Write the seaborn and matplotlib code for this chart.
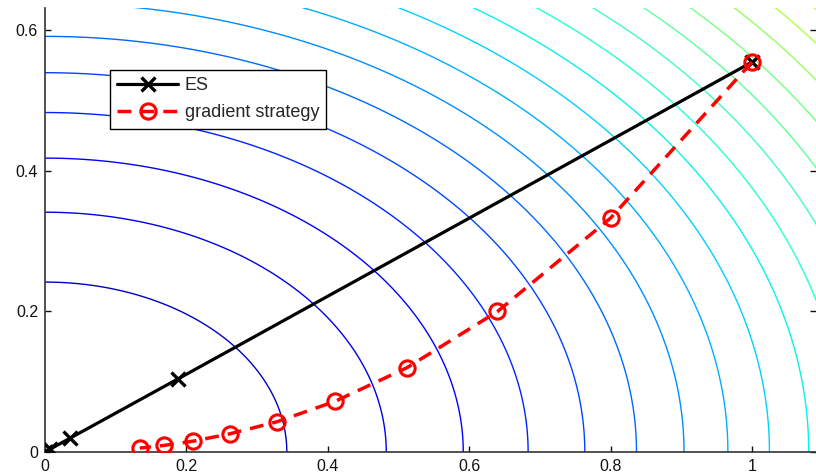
import numpy as np
import pandas as pd
import matplotlib
matplotlib.use("Agg")
import matplotlib.pyplot as plt
from matplotlib.colors import Normalize
import seaborn as sns

# Iterates of the two optimisers on f(x, y) = x^2 + 2 y^2
es_x = [1.0, 0.188, 0.0353, 0.0066, 0.0012, 0.0002]
es_y = [0.555, 0.104, 0.0196, 0.0037, 0.0007, 0.0001]

grad_x = [1.0, 0.8, 0.64, 0.512, 0.41, 0.328, 0.262, 0.21, 0.168, 0.134]
grad_y = [0.555, 0.333, 0.2, 0.12, 0.072, 0.043, 0.026, 0.0155, 0.0093, 0.0056]

# Objective and its contour levels
y_weight = 2.0
contour_levels = [0.117, 0.233, 0.35, 0.467, 0.583, 0.7, 0.817, 0.933, 1.05,
                  1.167, 1.283, 1.4, 1.517, 1.633, 1.75, 1.867, 1.983, 2.1]

x_ticks = [0, 0.2, 0.4, 0.6, 0.8, 1]
y_ticks = [0, 0.2, 0.4, 0.6]

sns.set_style("white")
plt.rcParams["font.family"] = ["Liberation Sans", "DejaVu Sans"]

fig = plt.figure(figsize=(8.16, 4.76), dpi=100)
ax = fig.add_axes([45 / 816, 24 / 476, 770.6 / 816, 444 / 476])

gx = np.linspace(0, 1.2, 500)
gy = np.linspace(0, 0.7, 300)
GX, GY = np.meshgrid(gx, gy)
GZ = GX ** 2 + y_weight * GY ** 2
ax.contour(GX, GY, GZ, levels=contour_levels, cmap="jet",
           norm=Normalize(vmin=-0.1, vmax=3.4), linewidths=1.0, zorder=1)

es_df = pd.DataFrame({"x": es_x, "y": es_y})
grad_df = pd.DataFrame({"x": grad_x, "y": grad_y})

sns.lineplot(data=es_df, x="x", y="y", sort=False, estimator=None, ax=ax,
             color="black", lw=2.3, marker="x", markersize=10,
             markeredgewidth=2.4, markeredgecolor="black", label="ES", zorder=3)
sns.lineplot(data=grad_df, x="x", y="y", sort=False, estimator=None, ax=ax,
             color="red", lw=2.5, linestyle=(0, (4, 2.6)), marker="o",
             markersize=11, markerfacecolor="none", markeredgecolor="red",
             markeredgewidth=2.2, label="gradient strategy", zorder=4)

ax.set_xlim(0, 1.09)
ax.set_ylim(0, 0.632)
ax.set_xticks(x_ticks)
ax.set_xticklabels(["0", "0.2", "0.4", "0.6", "0.8", "1"])
ax.set_yticks(y_ticks)
ax.set_yticklabels(["0", "0.2", "0.4", "0.6"])
ax.set_xlabel("")
ax.set_ylabel("")
ax.tick_params(direction="in", length=4, width=1, labelsize=11.5, colors="#111111",
               right=True, left=True, bottom=True, pad=5)
for side in ["top", "right"]:
    ax.spines[side].set_visible(False)
for side in ["left", "bottom"]:
    ax.spines[side].set_color("#333333")
    ax.spines[side].set_linewidth(1.2)

leg = ax.legend(loc="upper left", bbox_to_anchor=(0.084, 0.86), fontsize=13,
                frameon=True, fancybox=False, framealpha=1, edgecolor="black",
                handlelength=3.4, handletextpad=0.35, borderpad=0.4,
                labelspacing=0.55, borderaxespad=0)
leg.get_frame().set_linewidth(1.0)

fig.savefig("out.png", dpi=100)
